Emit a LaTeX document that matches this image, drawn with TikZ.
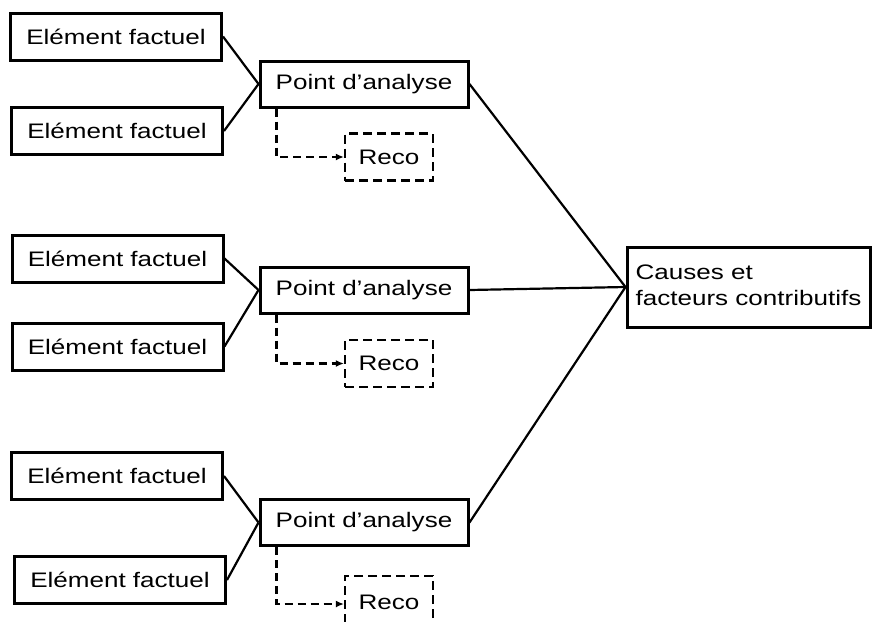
\documentclass[tikz,border=0pt]{standalone}
\usepackage{fontspec}
\setmainfont{Liberation Sans}
\usepackage{graphicx}
\usetikzlibrary{arrows.meta}
\newcommand{\myhs}[1]{\scalebox{1.24}[1]{#1}}
\tikzset{
  box/.style={draw, line width=3pt, inner sep=0pt, font=\fontsize{21}{26}\selectfont},
  ef/.style={box, minimum width=211pt, minimum height=47pt},
  pa/.style={box, minimum width=208pt, minimum height=46pt},
  reco/.style={draw, line width=2.2pt, dash pattern=on 9pt off 5pt, inner sep=0pt, minimum width=88pt, minimum height=47pt, font=\fontsize{21}{26}\selectfont},
  link/.style={line width=2.2pt},
  recolink/.style={line width=2.2pt, dash pattern=on 8pt off 5pt, -{Latex[length=8pt,width=7pt]}}
}
\begin{document}
\begin{tikzpicture}[x=1pt,y=-1pt]
\useasboundingbox (0,0) rectangle (877,621);
\clip (0,0) rectangle (877,621);
% group 1
\node[ef] (ef1) at (116,36.5) {\myhs{Elément factuel}};
\node[ef] (ef2) at (117,131) {\myhs{Elément factuel}};
\node[pa] (pa1) at (364,84) {\myhs{Point d’analyse}};
\node[reco] (r1) at (389,157) {\myhs{Reco}};
% group 2
\node[ef] (ef3) at (117.5,258.5) {\myhs{Elément factuel}};
\node[ef] (ef4) at (117.5,346.5) {\myhs{Elément factuel}};
\node[pa] (pa2) at (364,290) {\myhs{Point d’analyse}};
\node[reco] (r2) at (389,363.5) {\myhs{Reco}};
% group 3
\node[ef] (ef5) at (117,476) {\myhs{Elément factuel}};
\node[ef] (ef6) at (120,580) {\myhs{Elément factuel}};
\node[pa] (pa3) at (364,522.5) {\myhs{Point d’analyse}};
\node[reco, minimum height=52pt] (r3) at (389,602) {\myhs{Reco}};
% causes
\node[box, minimum width=243pt, minimum height=80pt, align=left] (c) at (748.5,287)
  {\myhs{\begin{tabular}{@{}l@{}}Causes et\\facteurs contributifs\end{tabular}}};
% connectors
\foreach \a/\b in {ef1/pa1, ef2/pa1, ef3/pa2, ef4/pa2, ef5/pa3, ef6/pa3}
  \draw[link] (\a.east) -- (\b.west);
\foreach \p in {pa1,pa2,pa3}
  \draw[link] (\p.east) -- (c.west);
\foreach \p/\r in {pa1/r1, pa2/r2}
  \draw[recolink] ([xshift=18pt]\p.south west) |- (\r.west);
\draw[recolink] ([xshift=18pt]pa3.south west) |- ([yshift=-2pt]r3.west);
\end{tikzpicture}
\end{document}
